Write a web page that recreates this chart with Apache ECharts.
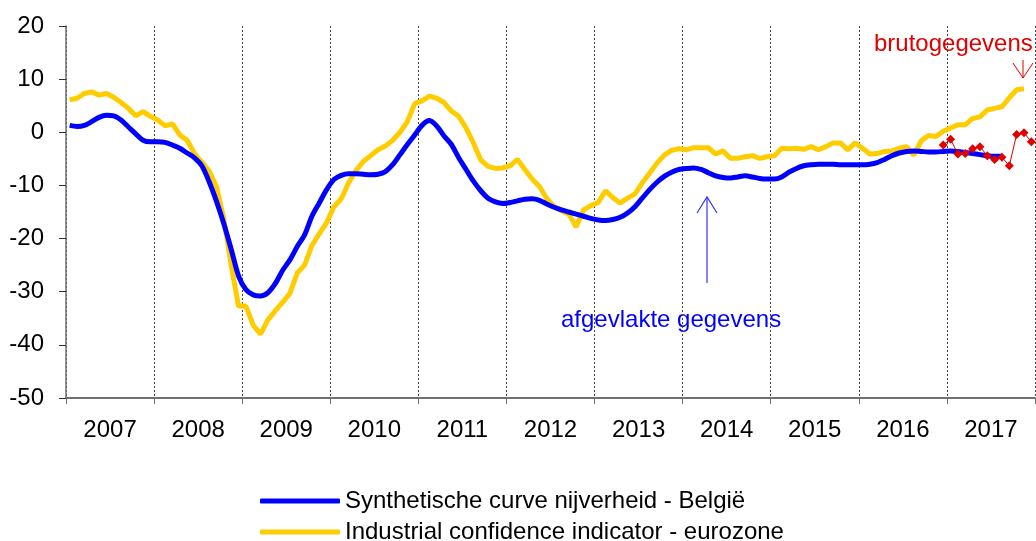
<!DOCTYPE html>
<html>
<head>
<meta charset="utf-8">
<script src="https://cdn.jsdelivr.net/npm/echarts@6/dist/echarts.min.js"></script>
<style>
  html, body { margin: 0; padding: 0; background: #fff; }
  #chart { width: 1036px; height: 541px; }
</style>
</head>
<body>
<div id="chart"></div>
<script>
// jaren op de x-as
var years = ['2007', '2008', '2009', '2010', '2011', '2012', '2013', '2014', '2015', '2016', '2017']

// maandelijkse waarden vanaf januari 2007
var belgium = [
  1.3, 1.1, 1.3, 2.0, 2.8, 3.2, 3.1, 2.3, 1.0, -0.3, -1.5, -1.8,
  -1.8, -1.9, -2.4, -3.0, -3.9, -4.8, -6.3, -9.3, -13.0, -17.2, -22.0, -27.0,
  -29.6, -30.6, -30.8, -30.2, -28.5, -26.0, -24.0, -21.5, -19.3, -15.8, -13.3, -10.8,
  -8.9, -8.1, -7.8, -7.8, -7.9, -8.0, -7.9, -7.4, -6.1, -4.2, -2.3, -0.5,
  1.3, 2.2, 1.2, -0.7, -2.3, -4.8, -7.0, -9.2, -11.0, -12.4, -13.1, -13.4,
  -13.2, -12.9, -12.6, -12.5, -12.8, -13.5, -14.1, -14.6, -15.0, -15.4, -15.8, -16.2,
  -16.5, -16.6, -16.4, -16.0, -15.2, -14.0, -12.4, -10.8, -9.4, -8.3, -7.5, -7.0,
  -6.8, -6.7, -7.0, -7.6, -8.2, -8.5, -8.6, -8.4, -8.2, -8.4, -8.7, -8.8,
  -8.8, -8.4, -7.5, -6.8, -6.3, -6.1, -6.0, -6.0, -6.0, -6.1, -6.1, -6.1,
  -6.1, -6.0, -5.7, -5.1, -4.4, -3.9, -3.6, -3.5, -3.6, -3.7, -3.7, -3.6,
  -3.5, -3.6, -3.8, -4.0, -4.2, -4.4, -4.5, -4.5
]

var eurozone = [
  6.1, 6.4, 7.3, 7.6, 7.0, 7.3, 6.6, 5.6, 4.5, 3.1, 3.9, 3.0,
  2.3, 1.2, 1.6, -0.5, -1.5, -4.0, -5.6, -7.3, -10.2, -16.3, -25.0, -32.7,
  -32.7, -36.3, -38.0, -35.3, -33.6, -32.0, -30.3, -26.5, -25.0, -21.3, -19.1, -17.0,
  -14.0, -12.5, -9.5, -7.2, -5.5, -4.4, -3.3, -2.6, -1.5, 0.0, 2.0, 5.4,
  5.9, 6.8, 6.4, 5.6, 4.0, 3.0, 0.8, -2.0, -5.2, -6.4, -6.8, -6.7,
  -6.3, -5.1, -7.0, -8.8, -10.2, -12.5, -14.0, -14.8, -15.4, -17.8, -14.6, -13.8,
  -13.2, -11.0, -12.3, -13.3, -12.4, -11.6, -9.5, -7.7, -5.8, -4.3, -3.4, -3.1,
  -3.3, -2.9, -2.9, -2.9, -4.1, -3.5, -4.9, -4.9, -4.6, -4.4, -4.9, -4.6,
  -4.4, -3.0, -3.1, -3.0, -3.2, -2.7, -3.3, -2.7, -2.0, -2.0, -3.3, -2.0,
  -3.0, -4.1, -4.0, -3.6, -3.5, -3.0, -2.7, -4.3, -1.6, -0.6, -0.8, 0.2,
  0.8, 1.4, 1.4, 2.6, 2.9, 4.2, 4.5, 4.8, 6.5, 8.0, 8.2
]

// brutogegevens vanaf december 2016 (maand 119)
var rawStart = 119
var raw = [-2.4, -1.3, -4.1, -4.0, -3.1, -2.7, -4.4, -5.1, -4.7, -6.3, -0.4, -0.1, -1.8]

var yTicks = { min: -50, max: 20, interval: 10 }

var nameBE = 'Synthetische curve nijverheid - België'
var nameEZ = 'Industrial confidence indicator - eurozone'

var chart = echarts.init(document.getElementById('chart'))
var font = 'Liberation Sans, Arial, sans-serif'

function toPoints(arr, start) {
  return arr.map(function (v, i) { return [start + i + 0.5, v] })
}

function legendItem(name, top) {
  return {
    data: [name],
    left: 255,
    top: top,
    itemWidth: 80,
    itemHeight: 5,
    icon: 'roundRect',
    textStyle: { color: '#000', fontSize: 24, fontFamily: font }
  }
}

var option = {
  backgroundColor: '#fff',
  animation: false,
  grid: { left: 66, right: 1, top: 26, bottom: 143 },
  xAxis: [
    {
      type: 'category',
      data: years,
      boundaryGap: true,
      axisLine: { onZero: false, lineStyle: { color: '#707070', width: 2 } },
      axisTick: { show: true, length: 6, lineStyle: { color: '#707070' } },
      axisLabel: { color: '#000', fontSize: 24, fontFamily: font, margin: 20 },
      splitLine: { show: true, lineStyle: { color: '#444', type: [2, 2], width: 1 } }
    },
    {
      type: 'value',
      min: 0,
      max: 132,
      show: false,
      axisLine: { onZero: false }
    }
  ],
  yAxis: {
    type: 'value',
    min: yTicks.min,
    max: yTicks.max,
    interval: yTicks.interval,
    axisLine: { show: true, lineStyle: { color: '#707070', width: 1.5 } },
    axisTick: { show: true, length: 7, lineStyle: { color: '#333' } },
    axisLabel: { color: '#000', fontSize: 24, fontFamily: font, margin: 22 },
    splitLine: { show: false }
  },
  legend: [
    legendItem(nameBE, 484),
    legendItem(nameEZ, 515)
  ],
  series: [
    {
      name: nameEZ,
      type: 'line',
      xAxisIndex: 1,
      data: toPoints(eurozone, 0),
      showSymbol: false,
      lineStyle: { color: '#ffcc00', width: 5 },
      itemStyle: { color: '#ffcc00' },
      z: 2
    },
    {
      name: nameBE,
      type: 'line',
      xAxisIndex: 1,
      data: toPoints(belgium, 0),
      smooth: 0.3,
      showSymbol: false,
      lineStyle: { color: '#0000ff', width: 5 },
      itemStyle: { color: '#0000ff' },
      z: 3
    },
    {
      name: 'brutogegevens',
      type: 'line',
      xAxisIndex: 1,
      data: toPoints(raw, rawStart),
      symbol: 'diamond',
      symbolSize: 9,
      lineStyle: { color: '#e00000', width: 1 },
      itemStyle: { color: '#e00000' },
      z: 4
    }
  ],
  graphic: [
    // afgevlakte gegevens
    {
      type: 'text',
      left: 561,
      top: 308,
      style: { text: 'afgevlakte gegevens', fill: '#0000ff', font: '24px ' + font }
    },
    {
      type: 'line',
      shape: { x1: 707, y1: 283, x2: 707, y2: 197 },
      style: { stroke: '#3333ff', lineWidth: 1.2 }
    },
    {
      type: 'polyline',
      shape: { points: [[697, 213], [707, 197], [717, 213]] },
      style: { stroke: '#3333ff', lineWidth: 1.2, fill: null }
    },
    // brutogegevens
    {
      type: 'text',
      left: 874,
      top: 32,
      style: { text: 'brutogegevens', fill: '#e00000', font: '24px ' + font }
    },
    {
      type: 'line',
      shape: { x1: 1023, y1: 60, x2: 1023, y2: 78 },
      style: { stroke: '#e00000', lineWidth: 1 }
    },
    {
      type: 'polyline',
      shape: { points: [[1013, 63], [1023, 78], [1033, 63]] },
      style: { stroke: '#e00000', lineWidth: 1, fill: null }
    }
  ]
}

chart.setOption(option)
</script>
</body>
</html>
